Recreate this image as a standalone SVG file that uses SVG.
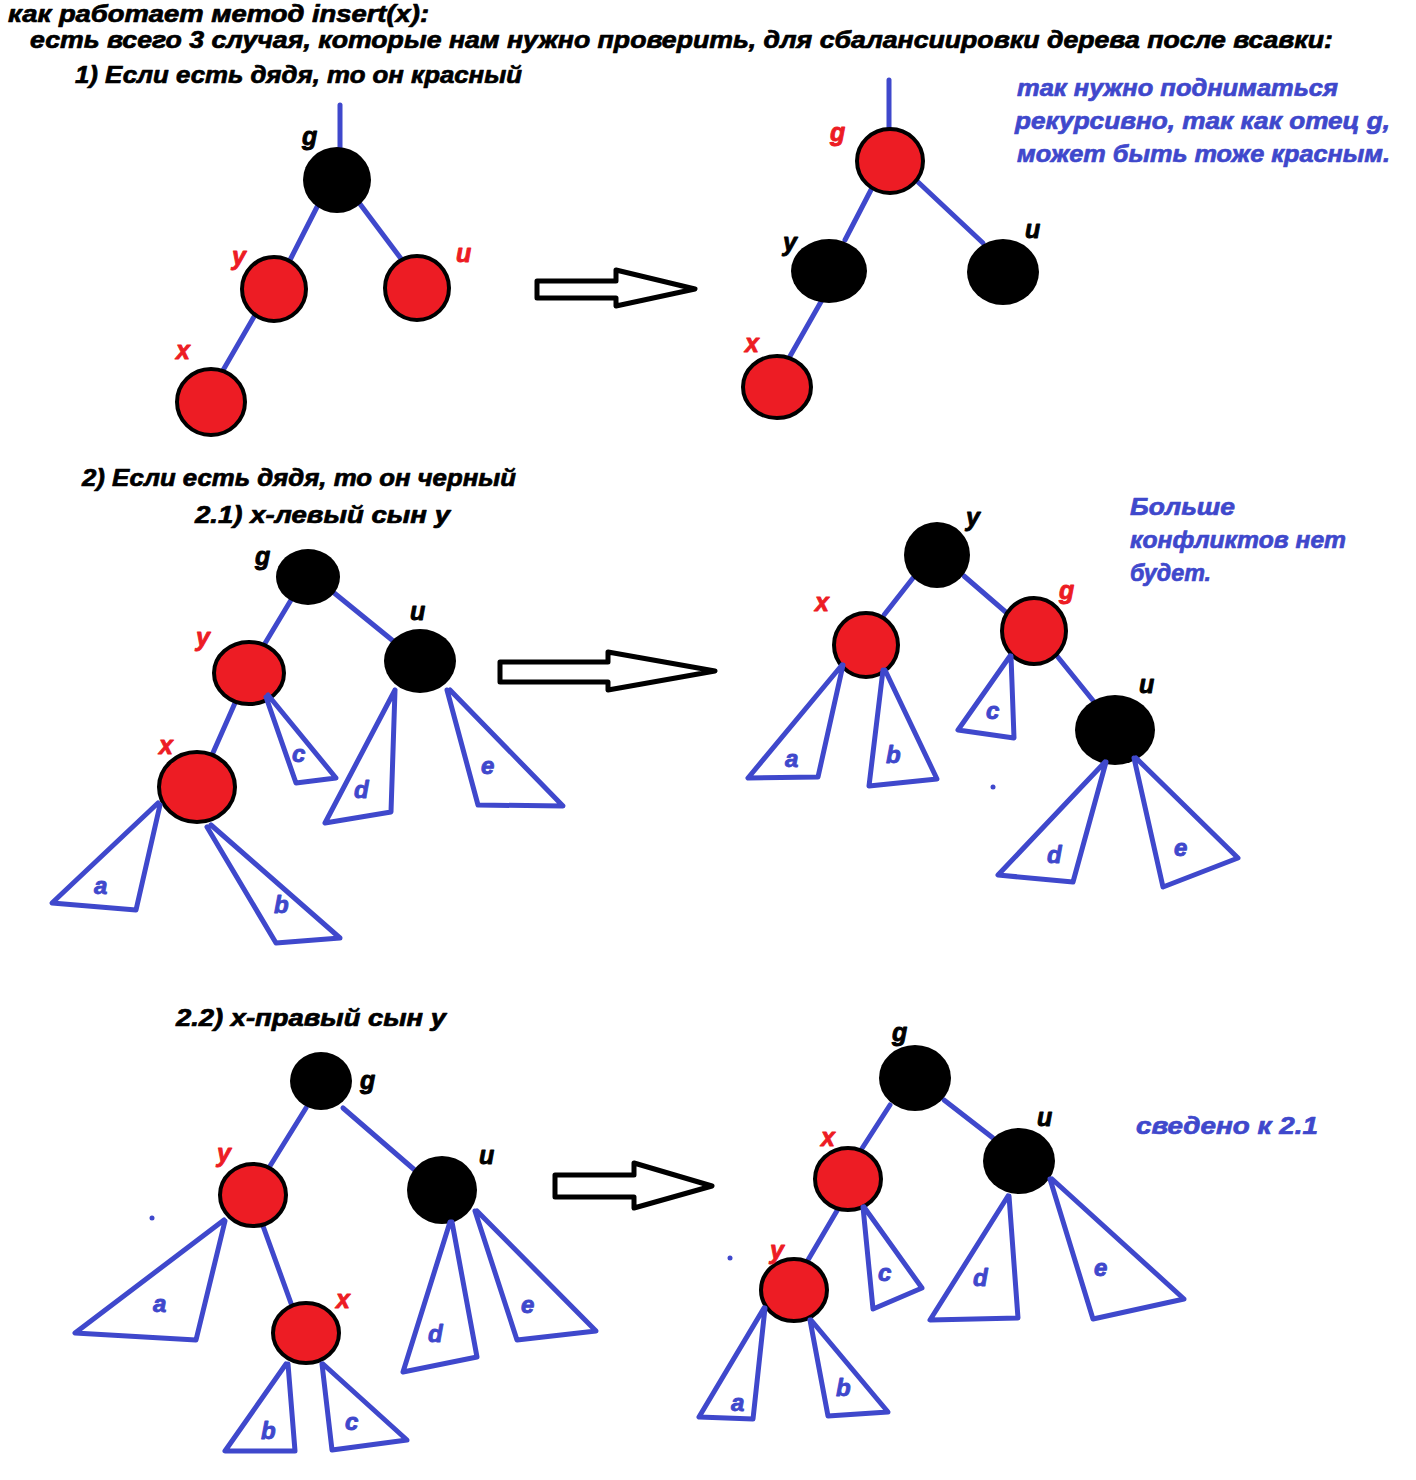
<svg xmlns="http://www.w3.org/2000/svg" width="1416" height="1480" viewBox="0 0 1416 1480">
<style>
text{font-family:"Liberation Sans",Arial,sans-serif;font-weight:bold;font-style:italic;stroke-linejoin:round}
.h{font-size:23px;fill:#000;stroke:#000;stroke-width:0.7}
.n{font-size:24px;fill:#3f48cc;stroke:#3f48cc;stroke-width:0.7}
.lb{font-size:25px;fill:#000;stroke:#000;stroke-width:0.9}
.lr{font-size:25px;fill:#ed1c24;stroke:#ed1c24;stroke-width:0.9}
.ls{font-size:24px;fill:#3f48cc;stroke:#3f48cc;stroke-width:0.9}
.e{stroke:#3f48cc;stroke-width:5;stroke-linecap:round;fill:none}
.t{stroke:#3f48cc;stroke-width:5;stroke-linecap:round;stroke-linejoin:round;fill:none}
.rn{fill:#ed1c24;stroke:#000;stroke-width:4}
.bn{fill:#000}
.ar{fill:#fff;stroke:#000;stroke-width:5;stroke-linejoin:round}
.dot{fill:#3f48cc}
</style>
<rect width="1416" height="1480" fill="#fff"/>

<g id="headings">
<text class="h" x="8" y="22" textLength="421" lengthAdjust="spacingAndGlyphs">как работает метод insert(x):</text>
<text class="h" x="30" y="48" textLength="1303" lengthAdjust="spacingAndGlyphs">есть всего 3 случая, которые нам нужно проверить, для сбалансиировки дерева после всавки:</text>
<text class="h" x="75" y="83" textLength="447" lengthAdjust="spacingAndGlyphs">1) Если есть дядя, то он красный</text>
<text class="h" x="82" y="486" textLength="434" lengthAdjust="spacingAndGlyphs">2) Если есть дядя, то он черный</text>
<text class="h" x="195" y="523" textLength="255" lengthAdjust="spacingAndGlyphs">2.1) x-левый сын y</text>
<text class="h" x="176" y="1026" textLength="270" lengthAdjust="spacingAndGlyphs">2.2) x-правый сын y</text>
</g>

<g id="notes">
<text class="n" x="1017" y="96" textLength="321" lengthAdjust="spacingAndGlyphs">так нужно подниматься</text>
<text class="n" x="1015" y="129" textLength="375" lengthAdjust="spacingAndGlyphs">рекурсивно, так как отец g,</text>
<text class="n" x="1017" y="162" textLength="373" lengthAdjust="spacingAndGlyphs">может быть тоже красным.</text>
<text class="n" x="1130" y="515" textLength="105" lengthAdjust="spacingAndGlyphs">Больше</text>
<text class="n" x="1130" y="548" textLength="216" lengthAdjust="spacingAndGlyphs">конфликтов нет</text>
<text class="n" x="1130" y="581" textLength="81" lengthAdjust="spacingAndGlyphs">будет.</text>
<text class="n" x="1136" y="1134" textLength="182" lengthAdjust="spacingAndGlyphs">сведено к 2.1</text>
</g>

<g id="connectors">
<line class="e" x1="340" y1="105" x2="340" y2="148"/>
<line class="e" x1="318" y1="205" x2="290" y2="260"/>
<line class="e" x1="360" y1="204" x2="402" y2="260"/>
<line class="e" x1="255" y1="315" x2="222" y2="372"/>
<line class="e" x1="889" y1="80" x2="889" y2="132"/>
<line class="e" x1="873" y1="186" x2="845" y2="240"/>
<line class="e" x1="918" y1="182" x2="983" y2="243"/>
<line class="e" x1="822" y1="300" x2="789" y2="358"/>
<line class="e" x1="291" y1="600" x2="264" y2="645"/>
<line class="e" x1="333" y1="592" x2="392" y2="640"/>
<line class="e" x1="235" y1="703" x2="212" y2="755"/>
<line class="e" x1="913" y1="578" x2="884" y2="615"/>
<line class="e" x1="964" y1="576" x2="1008" y2="614"/>
<line class="e" x1="1057" y1="656" x2="1095" y2="703"/>
<line class="e" x1="306" y1="1108" x2="270" y2="1166"/>
<line class="e" x1="343" y1="1108" x2="417" y2="1172"/>
<line class="e" x1="263" y1="1226" x2="292" y2="1306"/>
<line class="e" x1="890" y1="1105" x2="861" y2="1150"/>
<line class="e" x1="944" y1="1100" x2="993" y2="1138"/>
<line class="e" x1="838" y1="1209" x2="808" y2="1260"/>
</g>

<g id="arrows">
<path class="ar" d="M537 281 H616 V270 L695 289 L616 306 V298 H537 Z"/>
<path class="ar" d="M500 662 H608 V652 L715 671 L608 690 V682 H500 Z"/>
<path class="ar" d="M555 1175 H634 V1163 L712 1186 L634 1208 V1197 H555 Z"/>
</g>

<g id="c1l-g"><ellipse class="bn" cx="337" cy="180" rx="34" ry="33"/><text class="lb" x="302" y="145">g</text></g>
<g id="c1l-y"><ellipse class="rn" cx="274" cy="289" rx="32" ry="32"/><text class="lr" x="232" y="265">y</text></g>
<g id="c1l-u"><ellipse class="rn" cx="417" cy="288" rx="32" ry="32"/><text class="lr" x="456" y="262">u</text></g>
<g id="c1l-x"><ellipse class="rn" cx="211" cy="402" rx="34" ry="33"/><text class="lr" x="176" y="359">x</text></g>

<g id="c1r-g"><ellipse class="rn" cx="890" cy="161" rx="33" ry="32"/><text class="lr" x="830" y="141">g</text></g>
<g id="c1r-y"><ellipse class="bn" cx="829" cy="271" rx="38" ry="32"/><text class="lb" x="783" y="251">y</text></g>
<g id="c1r-u"><ellipse class="bn" cx="1003" cy="272" rx="36" ry="33"/><text class="lb" x="1025" y="238">u</text></g>
<g id="c1r-x"><ellipse class="rn" cx="777" cy="387" rx="34" ry="31"/><text class="lr" x="745" y="352">x</text></g>

<g id="s21l-g"><ellipse class="bn" cx="308" cy="577" rx="32" ry="28"/><text class="lb" x="255" y="565">g</text></g>
<g id="s21l-y"><ellipse class="rn" cx="249" cy="673" rx="35" ry="31"/><text class="lr" x="196" y="646">y</text></g>
<g id="s21l-u"><ellipse class="bn" cx="420" cy="661" rx="36" ry="32"/><text class="lb" x="410" y="620">u</text></g>
<g id="s21l-x"><ellipse class="rn" cx="197" cy="787" rx="38" ry="35"/><text class="lr" x="159" y="754">x</text></g>
<g id="s21l-a"><path class="t" d="M158 803 L52 903 L136 910 L160 805"/><text class="ls" x="94" y="894">a</text></g>
<g id="s21l-b"><path class="t" d="M207 827 L276 943 L340 938 L211 825"/><text class="ls" x="274" y="913">b</text></g>
<g id="s21l-c"><path class="t" d="M266 697 L296 783 L336 778 L268 695"/><text class="ls" x="292" y="762">c</text></g>
<g id="s21l-d"><path class="t" d="M395 690 L325 823 L391 812 L395 690"/><text class="ls" x="354" y="798">d</text></g>
<g id="s21l-e"><path class="t" d="M447 690 L478 805 L563 806 L450 690"/><text class="ls" x="481" y="774">e</text></g>

<g id="s21r-y"><ellipse class="bn" cx="937" cy="555" rx="33" ry="33"/><text class="lb" x="966" y="526">y</text></g>
<g id="s21r-x"><ellipse class="rn" cx="866" cy="645" rx="32" ry="32"/><text class="lr" x="815" y="611">x</text></g>
<g id="s21r-g"><ellipse class="rn" cx="1034" cy="631" rx="32" ry="33"/><text class="lr" x="1059" y="599">g</text></g>
<g id="s21r-u"><ellipse class="bn" cx="1115" cy="730" rx="40" ry="35"/><text class="lb" x="1139" y="693">u</text></g>
<g id="s21r-a"><path class="t" d="M842 665 L748 778 L818 777 L843 665"/><text class="ls" x="785" y="767">a</text></g>
<g id="s21r-b"><path class="t" d="M883 670 L869 786 L937 779 L885 670"/><text class="ls" x="886" y="763">b</text></g>
<g id="s21r-c"><path class="t" d="M1010 656 L958 730 L1014 738 L1011 656"/><text class="ls" x="986" y="719">c</text></g>
<g id="s21r-d"><path class="t" d="M1105 762 L998 875 L1073 882 L1106 762"/><text class="ls" x="1047" y="863">d</text></g>
<g id="s21r-e"><path class="t" d="M1134 758 L1163 887 L1238 858 L1136 758"/><text class="ls" x="1174" y="856">e</text></g>
<circle class="dot" cx="993" cy="787" r="2.5"/>

<g id="s22l-g"><ellipse class="bn" cx="321" cy="1081" rx="31" ry="29"/><text class="lb" x="360" y="1089">g</text></g>
<g id="s22l-y"><ellipse class="rn" cx="253" cy="1195" rx="33" ry="31"/><text class="lr" x="217" y="1162">y</text></g>
<g id="s22l-u"><ellipse class="bn" cx="442" cy="1190" rx="35" ry="34"/><text class="lb" x="479" y="1164">u</text></g>
<g id="s22l-x"><ellipse class="rn" cx="306" cy="1333" rx="33" ry="30"/><text class="lr" x="336" y="1308">x</text></g>
<g id="s22l-a"><path class="t" d="M224 1220 L75 1333 L196 1340 L225 1221"/><text class="ls" x="153" y="1312">a</text></g>
<g id="s22l-b"><path class="t" d="M286 1364 L225 1451 L295 1451 L288 1364"/><text class="ls" x="261" y="1439">b</text></g>
<g id="s22l-c"><path class="t" d="M322 1364 L332 1450 L407 1440 L323 1364"/><text class="ls" x="345" y="1430">c</text></g>
<g id="s22l-d"><path class="t" d="M450 1222 L403 1372 L477 1357 L452 1222"/><text class="ls" x="428" y="1342">d</text></g>
<g id="s22l-e"><path class="t" d="M475 1211 L517 1340 L596 1331 L477 1211"/><text class="ls" x="521" y="1313">e</text></g>
<circle class="dot" cx="152" cy="1218" r="2.5"/>

<g id="s22r-g"><ellipse class="bn" cx="915" cy="1078" rx="36" ry="33"/><text class="lb" x="892" y="1041">g</text></g>
<g id="s22r-x"><ellipse class="rn" cx="848" cy="1179" rx="33" ry="31"/><text class="lr" x="821" y="1146">x</text></g>
<g id="s22r-u"><ellipse class="bn" cx="1019" cy="1161" rx="36" ry="33"/><text class="lb" x="1037" y="1126">u</text></g>
<g id="s22r-y"><ellipse class="rn" cx="794" cy="1290" rx="33" ry="31"/><text class="lr" x="770" y="1259">y</text></g>
<g id="s22r-a"><path class="t" d="M764 1308 L699 1417 L753 1419 L765 1308"/><text class="ls" x="731" y="1411">a</text></g>
<g id="s22r-b"><path class="t" d="M810 1320 L828 1416 L888 1412 L811 1320"/><text class="ls" x="836" y="1396">b</text></g>
<g id="s22r-c"><path class="t" d="M863 1207 L873 1309 L922 1288 L864 1207"/><text class="ls" x="878" y="1281">c</text></g>
<g id="s22r-d"><path class="t" d="M1008 1196 L930 1320 L1018 1318 L1009 1196"/><text class="ls" x="973" y="1286">d</text></g>
<g id="s22r-e"><path class="t" d="M1050 1179 L1093 1319 L1184 1299 L1052 1179"/><text class="ls" x="1094" y="1276">e</text></g>
<circle class="dot" cx="730" cy="1258" r="2.5"/>
</svg>
